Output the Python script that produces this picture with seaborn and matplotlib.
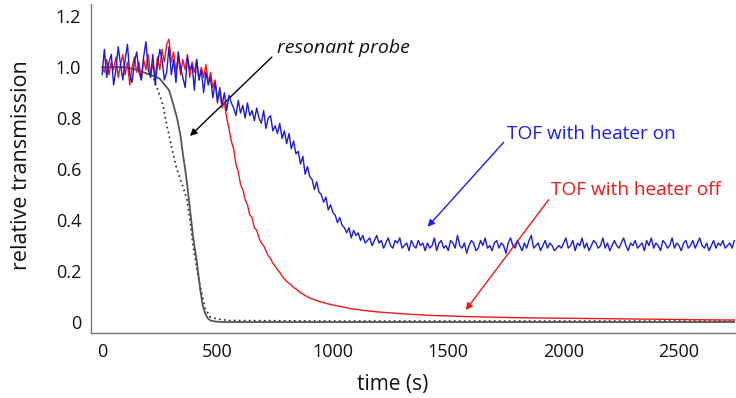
import numpy as np
import pandas as pd
import matplotlib
matplotlib.use("Agg")
import matplotlib.pyplot as plt
import seaborn as sns

# ---------------- data ----------------
# TOF with heater on: sampled every 10 s starting at t = 0
blue_step = 10
blue_v = [
    0.97, 1.07, 0.96, 1.02, 1.05, 0.93, 0.99, 1.08, 1.01, 0.95,
    1.03, 1.09, 0.97, 0.94, 1.02, 1.06, 0.98, 0.95, 1.04, 1.10,
    0.99, 0.96, 1.05, 0.93, 1.01, 1.07, 1.03, 0.95, 0.98, 1.08, 0.97,
    1.03, 0.94, 1.06, 1.00, 0.96, 0.92, 1.04, 0.99, 1.01, 0.91,
    1.03, 0.95, 0.99, 0.90, 0.98, 0.93, 0.96, 0.88, 0.94, 0.86, 0.92, 0.85,
    0.90, 0.83, 0.89, 0.86, 0.84, 0.81, 0.87, 0.82, 0.85, 0.80,
    0.86, 0.81, 0.83, 0.79, 0.84, 0.80, 0.78, 0.83, 0.76, 0.80,
    0.81, 0.75, 0.77, 0.74, 0.78, 0.72, 0.75, 0.70,
    0.74, 0.68, 0.71, 0.66, 0.67, 0.62, 0.65, 0.58, 0.61, 0.57,
    0.56, 0.52, 0.55, 0.51, 0.50, 0.47, 0.49, 0.44, 0.46, 0.43,
    0.42, 0.39, 0.41, 0.38, 0.37, 0.35, 0.37, 0.33, 0.36, 0.34,
    0.35, 0.32, 0.34, 0.31, 0.32, 0.33, 0.30, 0.32, 0.34, 0.31,
    0.32, 0.29, 0.31, 0.33, 0.30, 0.29, 0.32, 0.31, 0.33, 0.29,
    0.30, 0.31, 0.28, 0.32, 0.30, 0.29, 0.32, 0.30, 0.31, 0.28,
    0.31, 0.29, 0.30, 0.33, 0.28, 0.31, 0.32, 0.29, 0.30, 0.28,
    0.32, 0.31, 0.29, 0.34, 0.30, 0.29, 0.31, 0.27, 0.30, 0.32,
    0.31, 0.28, 0.29, 0.32, 0.30, 0.33, 0.29, 0.30, 0.28, 0.31,
    0.32, 0.29, 0.31, 0.30, 0.27, 0.31, 0.33, 0.30, 0.29, 0.32,
    0.30, 0.28, 0.31, 0.29, 0.32, 0.34, 0.29, 0.30, 0.31, 0.28,
    0.30, 0.32, 0.29, 0.31, 0.30, 0.28, 0.29, 0.30, 0.29, 0.31,
    0.33, 0.29, 0.30, 0.32, 0.28, 0.31, 0.30, 0.33, 0.29, 0.31,
    0.28, 0.30, 0.32, 0.31, 0.29, 0.30, 0.33, 0.29, 0.31, 0.28,
    0.30, 0.32, 0.30, 0.29, 0.31, 0.33, 0.30, 0.28, 0.31, 0.30,
    0.32, 0.29, 0.30, 0.31, 0.28, 0.32, 0.30, 0.33, 0.29, 0.31,
    0.30, 0.28, 0.32, 0.31, 0.29, 0.30, 0.33, 0.29, 0.31, 0.30,
    0.28, 0.31, 0.32, 0.29, 0.30, 0.32, 0.29, 0.31, 0.33, 0.30,
    0.29, 0.31, 0.28, 0.30, 0.32, 0.29, 0.31, 0.30, 0.32, 0.29,
    0.30, 0.31, 0.29, 0.32,
]

# TOF with heater off: noisy part every 10 s from t = 0, then the decay tail
red_step = 10
red_early_v = [
    1.00, 0.98, 1.03, 0.97, 1.02, 0.99, 1.04, 0.96, 1.01, 1.05,
    0.97, 1.02, 0.93, 1.00, 1.04, 0.98, 1.02, 0.95, 1.03, 0.99,
    1.05, 0.97, 1.01, 0.96, 1.04, 0.99, 1.07, 1.02, 1.09, 1.11,
    1.02, 1.06, 0.98, 1.04, 0.97, 1.03, 0.99, 1.05, 0.96, 1.02,
    0.98, 1.03, 0.95, 1.00, 0.96, 1.01, 0.94, 0.98, 0.92, 0.95,
    0.88, 0.90, 0.84, 0.86,
]
red_tail_t = [540, 550, 560, 570, 580, 590, 600, 610, 620, 630, 640, 650,
              660, 670, 680, 690, 700, 710, 720, 730, 740, 750, 760, 770,
              780, 790, 800, 810, 820, 830, 840, 850, 860, 870, 880, 890,
              900, 920, 940, 960, 980, 1000, 1020, 1040, 1060, 1080, 1100,
              1130, 1160, 1190, 1220, 1250, 1280, 1310, 1340, 1370, 1400,
              1450, 1500, 1550, 1600, 1650, 1700, 1800, 1900, 2000, 2100,
              2200, 2300, 2400, 2500, 2600, 2740]
red_tail_v = [0.80, 0.76, 0.71, 0.68, 0.62, 0.59, 0.54, 0.52, 0.48, 0.46,
              0.42, 0.41, 0.37, 0.36, 0.33, 0.31, 0.30, 0.28, 0.26, 0.25,
              0.23, 0.22, 0.205, 0.195, 0.18, 0.17, 0.16, 0.152, 0.145,
              0.135, 0.13, 0.122, 0.115, 0.11, 0.104, 0.10, 0.094, 0.088,
              0.081, 0.076, 0.071, 0.067, 0.063, 0.060, 0.056, 0.052, 0.050,
              0.046, 0.043, 0.040, 0.038, 0.036, 0.034, 0.032, 0.030, 0.029,
              0.027, 0.025, 0.024, 0.022, 0.021, 0.020, 0.019, 0.017, 0.016,
              0.015, 0.014, 0.013, 0.012, 0.011, 0.010, 0.009, 0.008]

# resonant probe (solid) and its model (dotted)
probe_t = [0, 100, 150, 210, 250, 290, 310, 325, 340, 350, 360, 370, 380,
           395, 410, 425, 435, 446, 458, 470, 490, 520, 1000, 2000, 2740]
probe_v = [1.00, 1.00, 0.99, 0.97, 0.955, 0.91, 0.85, 0.80, 0.73, 0.66,
           0.60, 0.53, 0.45, 0.33, 0.24, 0.13, 0.07, 0.035, 0.015, 0.006,
           0.002, 0.0, 0.0, 0.0, 0.0]
model_t = [0, 100, 150, 220, 242, 264, 281, 303, 324, 351, 368, 381, 394,
           416, 433, 446, 468, 498, 550, 1000, 2000, 2740]
model_v = [1.00, 1.00, 0.99, 0.965, 0.91, 0.85, 0.77, 0.68, 0.60, 0.53,
           0.48, 0.40, 0.30, 0.18, 0.11, 0.055, 0.02, 0.012, 0.006, 0.004,
           0.004, 0.004]

y_ticks = [0, 0.2, 0.4, 0.6, 0.8, 1.0, 1.2]
y_tick_labels = ["0", "0.2", "0.4", "0.6", "0.8", "1.0", "1.2"]
x_ticks = [0, 500, 1000, 1500, 2000, 2500]

# ---------------- build frames ----------------
blue_df = pd.DataFrame({"t": np.arange(len(blue_v)) * blue_step, "v": blue_v})
red_df = pd.DataFrame({
    "t": list(np.arange(len(red_early_v)) * red_step) + red_tail_t,
    "v": red_early_v + red_tail_v,
})
probe_df = pd.DataFrame({"t": probe_t, "v": probe_v})
model_df = pd.DataFrame({"t": model_t, "v": model_v})

# ---------------- plot ----------------
sns.set_style("white")
plt.rcParams["font.family"] = ["Open Sans", "DejaVu Sans"]

fig = plt.figure(figsize=(7.36, 3.98), dpi=100)
ax = fig.add_axes([91 / 736, 1 - 333 / 398, 1 - 91 / 736, (333 - 4) / 398])

sns.lineplot(data=model_df, x="t", y="v", ax=ax, color="#222222",
             lw=1.2, linestyle=(0, (1, 2)), zorder=2)
sns.lineplot(data=probe_df, x="t", y="v", ax=ax, color="#555555",
             lw=1.3, zorder=3)
sns.lineplot(data=red_df, x="t", y="v", ax=ax, color="#f01818",
             lw=1.0, zorder=4)
sns.lineplot(data=blue_df, x="t", y="v", ax=ax, color="#1c1cd6",
             lw=1.0, zorder=5)

ax.set_xlim(-48, 2747)
ax.set_ylim(-0.043, 1.248)
ax.set_xticks(x_ticks)
ax.set_xticklabels([str(x) for x in x_ticks])
ax.set_yticks(y_ticks)
ax.set_yticklabels(y_tick_labels)

for side in ["top", "right"]:
    ax.spines[side].set_visible(False)
for side in ["left", "bottom"]:
    ax.spines[side].set_color("#777777")
    ax.spines[side].set_linewidth(1.0)

ax.tick_params(axis="both", direction="in", length=5, width=1,
               color="#888888", labelsize=13, labelcolor="#111111")
ax.tick_params(axis="y", pad=7)
ax.tick_params(axis="x", pad=7)

ax.set_xlabel("time (s)", fontsize=15, color="#111111")
ax.set_ylabel("relative transmission", fontsize=15.5, color="#111111")
ax.xaxis.set_label_coords(0.467, -0.125)
ax.yaxis.set_label_coords(-0.091, 0.51)

# annotations
ax.annotate("", xy=(381, 0.73), xytext=(736, 1.04),
            arrowprops=dict(arrowstyle="-|>", color="black", lw=1.0,
                            mutation_scale=10, shrinkA=0, shrinkB=0))
ax.text(756, 1.075, "resonant probe", fontsize=14, style="italic",
        color="#111111", ha="left", va="center")

ax.annotate("", xy=(1411, 0.374), xytext=(1740, 0.705),
            arrowprops=dict(arrowstyle="-|>", color="#1c1cf0", lw=1.0,
                            mutation_scale=10, shrinkA=0, shrinkB=0))
ax.text(1755, 0.738, "TOF with heater on", fontsize=13.7, color="#1c1cf0",
        ha="left", va="center")

ax.annotate("", xy=(1576, 0.047), xytext=(1935, 0.48),
            arrowprops=dict(arrowstyle="-|>", color="#f01818", lw=1.0,
                            mutation_scale=10, shrinkA=0, shrinkB=0))
ax.text(1945, 0.52, "TOF with heater off", fontsize=13.7, color="#f01818",
        ha="left", va="center")

fig.savefig("out.png", dpi=100)
